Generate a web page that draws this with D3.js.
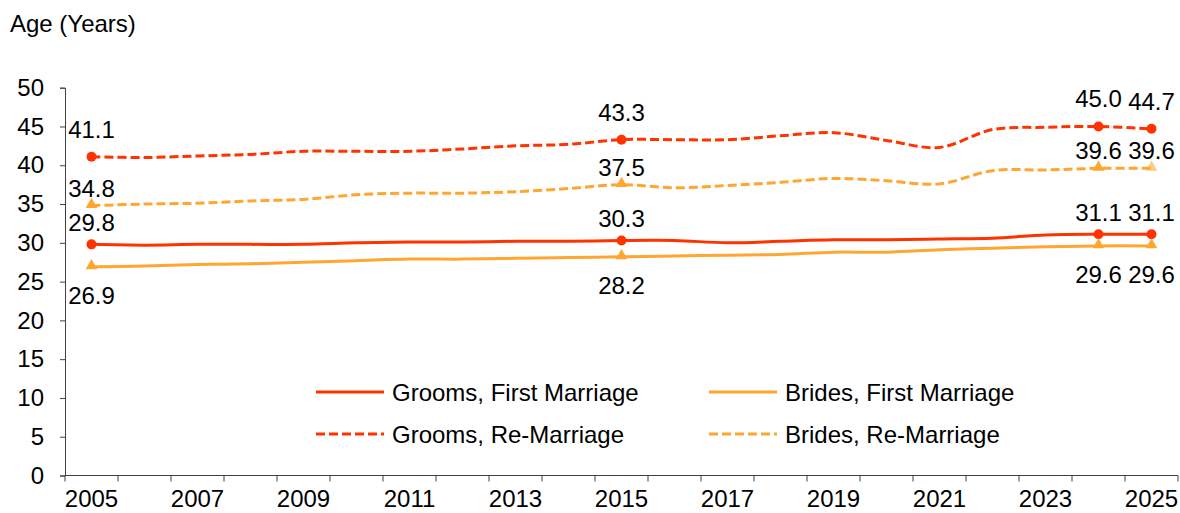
<!DOCTYPE html>
<html>
<head>
<meta charset="utf-8">
<script src="https://cdn.jsdelivr.net/npm/d3@7"></script>
<style>
  body { margin: 0; background: #fff; }
  svg { display: block; font-family: "Liberation Sans", Arial, sans-serif; }
</style>
</head>
<body>
<svg id="chart" width="1180" height="513"></svg>
<script>
// categories
var years = [2005, 2006, 2007, 2008, 2009, 2010, 2011, 2012, 2013, 2014, 2015,
             2016, 2017, 2018, 2019, 2020, 2021, 2022, 2023, 2024, 2025];
var tickYears = [2005, 2007, 2009, 2011, 2013, 2015, 2017, 2019, 2021, 2023, 2025];
var labelYears = [2005, 2015, 2024, 2025];
var yTicks = [0, 5, 10, 15, 20, 25, 30, 35, 40, 45, 50];

// series values (median age)
var groomsFirst = [29.8, 29.7, 29.8, 29.8, 29.8, 30.0, 30.1, 30.1, 30.2, 30.2, 30.3,
                   30.3, 30.0, 30.2, 30.4, 30.4, 30.5, 30.6, 31.0, 31.1, 31.1];
var bridesFirst = [26.9, 27.0, 27.2, 27.3, 27.5, 27.7, 27.9, 27.9, 28.0, 28.1, 28.2,
                   28.3, 28.4, 28.5, 28.8, 28.8, 29.1, 29.3, 29.5, 29.6, 29.6];
var groomsRe = [41.1, 41.0, 41.2, 41.4, 41.8, 41.8, 41.8, 42.1, 42.5, 42.7, 43.3,
                43.3, 43.3, 43.8, 44.2, 43.2, 42.3, 44.6, 44.9, 45.0, 44.7];
var bridesRe = [34.8, 35.0, 35.1, 35.4, 35.6, 36.2, 36.4, 36.4, 36.6, 37.0, 37.5,
                37.1, 37.4, 37.8, 38.3, 38.0, 37.6, 39.3, 39.4, 39.6, 39.6];

var RED = "#ff3300", ORANGE = "#ffa630";

var series = [
  {name: "Grooms, First Marriage", values: groomsFirst, color: RED, dash: null, marker: "circle", labelDy: -13},
  {name: "Brides, First Marriage", values: bridesFirst, color: ORANGE, dash: null, marker: "triangle", labelDy: 37},
  {name: "Grooms, Re-Marriage", values: groomsRe, color: RED, dash: "9,4", marker: "circle", labelDy: -19},
  {name: "Brides, Re-Marriage", values: bridesRe, color: ORANGE, dash: "9,4", marker: "triangle", labelDy: -9}
];

var svg = d3.select("#chart");
var fontSize = "24px";

var x = d3.scaleBand().domain(years).range([65, 1178]).padding(0);
var y = d3.scaleLinear().domain([0, 50]).range([475.5, 87.7]);
var cx = function(yr) { return x(yr) + x.bandwidth() / 2; };

// y axis
var yAxis = svg.append("g")
  .attr("transform", "translate(65,0)")
  .call(d3.axisLeft(y).tickValues(yTicks).tickSize(5).tickPadding(16));
yAxis.selectAll("text").style("font-size", fontSize).attr("fill", "#000");
yAxis.selectAll("line, path").attr("stroke", "#404040");

// x axis: ticks between categories, labels on every second year
var xg = svg.append("g");
xg.append("line")
  .attr("x1", 65).attr("x2", 1178)
  .attr("y1", y(0)).attr("y2", y(0))
  .attr("stroke", "#404040");
xg.selectAll("line.tick").data(years.concat([null])).enter().append("line")
  .attr("class", "tick")
  .attr("x1", function(d) { return d === null ? 1178 : x(d); })
  .attr("x2", function(d) { return d === null ? 1178 : x(d); })
  .attr("y1", y(0)).attr("y2", y(0) + 6)
  .attr("stroke", "#404040");
xg.selectAll("text").data(tickYears).enter().append("text")
  .attr("x", cx)
  .attr("y", 507)
  .attr("text-anchor", "middle")
  .style("font-size", fontSize)
  .text(function(d) { return d; });

svg.append("text")
  .attr("x", 10).attr("y", 32)
  .style("font-size", fontSize)
  .text("Age (Years)");

// lines
var line = d3.line()
  .curve(d3.curveCatmullRom)
  .x(function(d) { return cx(d.year); })
  .y(function(d) { return y(d.value); });

series.forEach(function(s) {
  s.points = years.map(function(yr, i) { return {year: yr, value: s.values[i]}; });
});

svg.selectAll("path.series").data(series).enter().append("path")
  .attr("class", "series")
  .attr("d", function(s) { return line(s.points); })
  .attr("fill", "none")
  .attr("stroke", function(s) { return s.color; })
  .attr("stroke-width", 3)
  .attr("stroke-dasharray", function(s) { return s.dash; });

// markers + data labels
var tri = d3.symbol().type(d3.symbolTriangle).size(60);
series.forEach(function(s) {
  var pts = s.points.filter(function(p) { return labelYears.indexOf(p.year) >= 0; });
  var g = svg.append("g");
  pts.forEach(function(p) {
    var faded = s.name === "Brides, Re-Marriage" && p.year === 2025;
    if (s.marker === "circle") {
      g.append("circle")
        .attr("cx", cx(p.year)).attr("cy", y(p.value)).attr("r", 5)
        .attr("fill", s.color);
    } else {
      g.append("path")
        .attr("d", tri)
        .attr("transform", "translate(" + cx(p.year) + "," + (y(p.value) - 1) + ")")
        .attr("fill", s.color)
        .attr("opacity", faded ? 0.6 : 1);
    }
    g.append("text")
      .attr("x", cx(p.year))
      .attr("y", y(p.value) + s.labelDy)
      .attr("text-anchor", "middle")
      .style("font-size", fontSize)
      .text(p.value.toFixed(1));
  });
});

// legend
var legendPos = [[316, 392], [709, 392], [316, 434], [709, 434]];
var leg = svg.selectAll("g.legend").data(series).enter().append("g")
  .attr("class", "legend")
  .attr("transform", function(d, i) { return "translate(" + legendPos[i][0] + "," + legendPos[i][1] + ")"; });
leg.append("line")
  .attr("x1", 0).attr("x2", 68)
  .attr("stroke", function(d) { return d.color; })
  .attr("stroke-width", 3)
  .attr("stroke-dasharray", function(d) { return d.dash; });
leg.append("text")
  .attr("x", 76).attr("y", 8.5)
  .style("font-size", fontSize)
  .text(function(d) { return d.name; });
</script>
</body>
</html>
